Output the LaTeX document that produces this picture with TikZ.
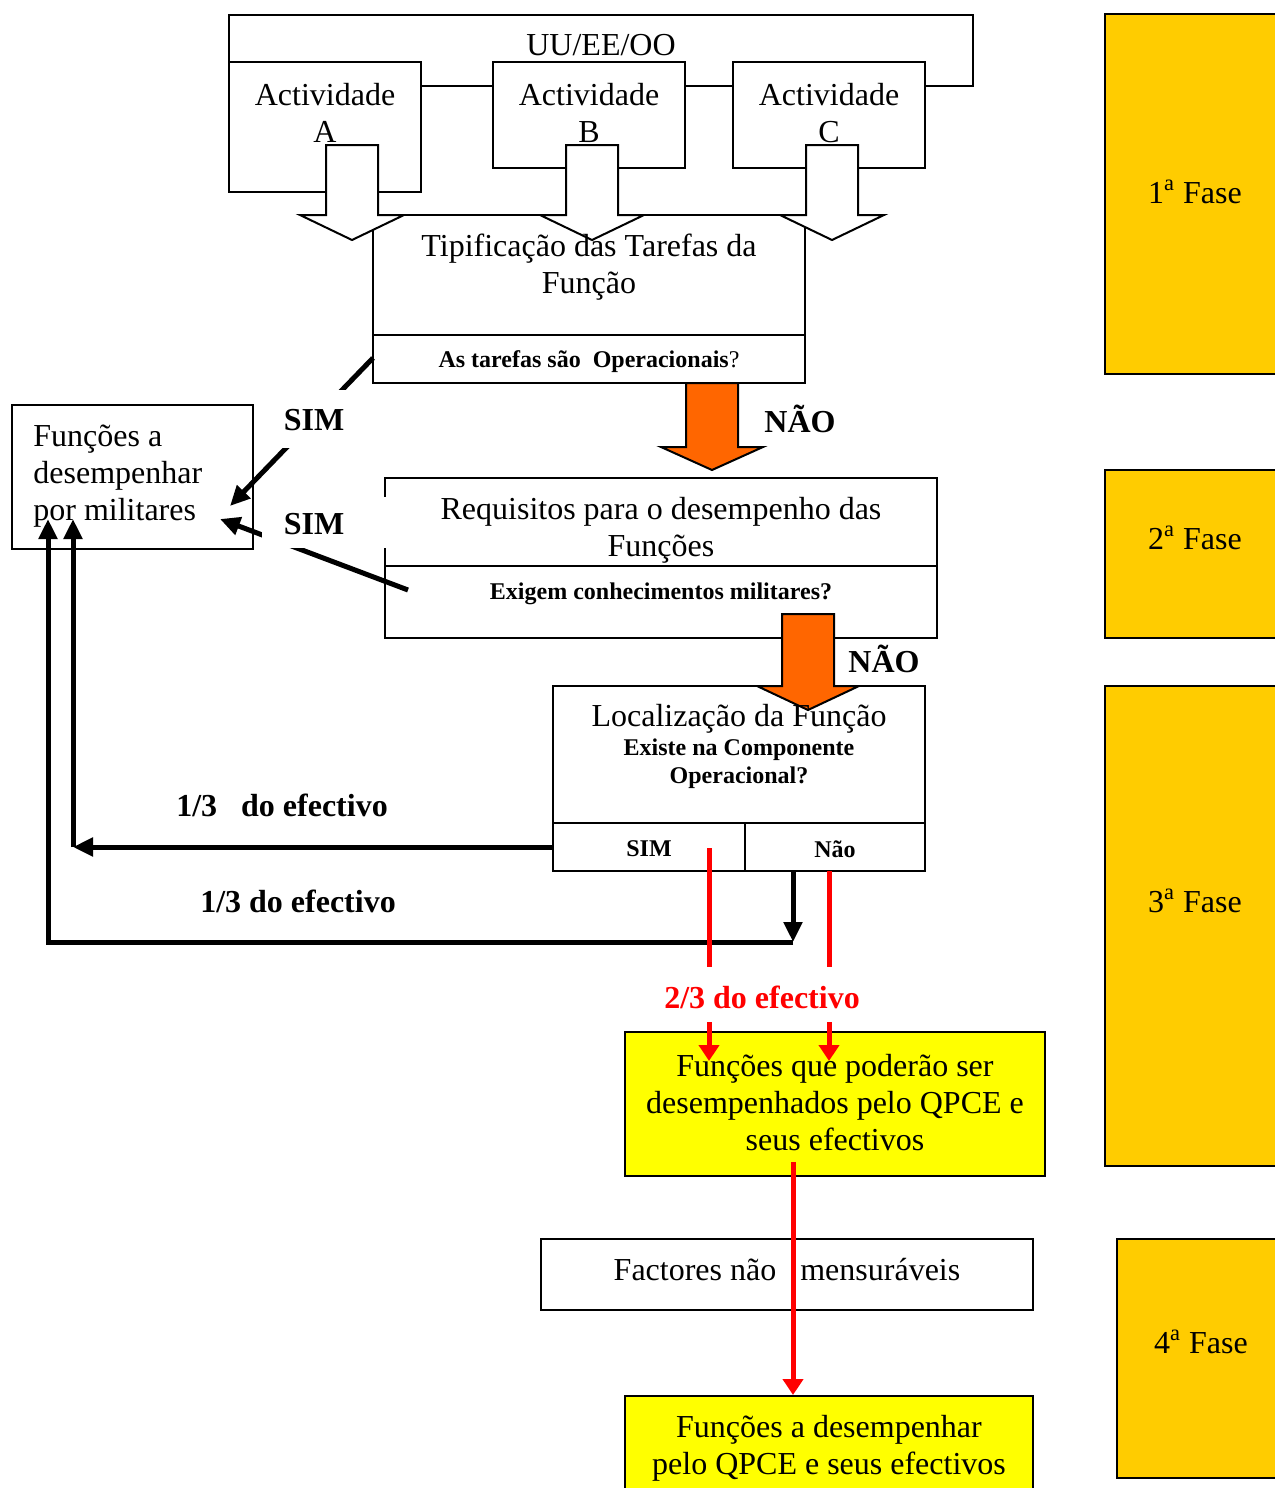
\documentclass[tikz,border=0pt]{standalone}
\usepackage{fontspec}
\setmainfont{Liberation Serif}
\usetikzlibrary{arrows.meta}
\definecolor{myorange}{HTML}{FF6600}
\definecolor{gold}{HTML}{FFCC00}
\definecolor{yel}{HTML}{FFFF00}
\definecolor{myred}{HTML}{FF0000}
\tikzset{
  box/.style={draw, line width=1pt, fill=white, inner sep=0pt},
  fasebox/.style={draw, line width=1pt, fill=gold, inner sep=0pt},
  yelbox/.style={draw, line width=1pt, fill=yel, inner sep=0pt},
  txt/.style={font=\fontsize{16pt}{18.5pt}\selectfont, align=center, inner sep=0pt},
  smallq/.style={font=\bfseries\fontsize{12pt}{14pt}\selectfont, align=center, inner sep=0pt},
  lbl/.style={font=\bfseries\fontsize{16pt}{18.5pt}\selectfont, inner sep=0pt},
  blockarrow/.style={draw, line width=1pt, line join=miter},
  blackarrow/.style={line width=2.5pt, -{Triangle[length=10pt,width=9pt]}},
  redarrow/.style={draw=myred, line width=2.5pt, -{Triangle[length=8pt,width=10pt]}},
  cover/.style={fill=white, inner sep=0pt},
}
\begin{document}
\begin{tikzpicture}[x=0.5pt, y=-0.5pt]
\useasboundingbox (0,0) rectangle (1274,1488);

% Phase boxes
\node[fasebox, minimum width=92.5pt, minimum height=180pt] (f1) at (1197.5,194) {};
\node[fasebox, minimum width=92.5pt, minimum height=84pt] (f2) at (1197.5,554) {};
\node[fasebox, minimum width=92.5pt, minimum height=240pt] (f3) at (1197.5,926) {};
\node[fasebox, minimum width=86.5pt, minimum height=119.5pt] (f4) at (1203.5,1358.5) {};
\node[txt] (f1t) at (1195,192) {1\textsuperscript{a} Fase};
\node[txt] (f2t) at (1195,538) {2\textsuperscript{a} Fase};
\node[txt] (f3t) at (1195,901) {3\textsuperscript{a} Fase};
\node[txt] (f4t) at (1201,1342) {4\textsuperscript{a} Fase};

% UU/EE/OO frame and activities
\node[box, minimum width=372pt, minimum height=35.5pt] (uu) at (601,50.5) {};
\node[txt] (uut) at (601,45) {UU/EE/OO};
\node[box, minimum width=96pt, minimum height=65pt] (actA) at (325,127) {};
\node[box, minimum width=96pt, minimum height=53pt] (actB) at (589,115) {};
\node[box, minimum width=96pt, minimum height=53pt] (actC) at (829,115) {};
\node[txt] (actAt) at (325,113) {Actividade\\A};
\node[txt] (actBt) at (589,113) {Actividade\\B};
\node[txt] (actCt) at (829,113) {Actividade\\C};

% Tipificacao box
\node[box, minimum width=216pt, minimum height=84pt] (tip) at (589,299) {};
\coordinate (tipdl) at (373,335);
\coordinate (tipdr) at (805,335);
\draw[line width=1pt] (tipdl) -- (tipdr);

% hollow block arrows
\foreach \cx in {352,592,832}{
  \draw[blockarrow, fill=white] (\cx-26,145) -- (\cx+26,145) -- (\cx+26,215) -- (\cx+52,215)
    -- (\cx,240) -- (\cx-52,215) -- (\cx-26,215) -- cycle;
}
\node[txt] (tipt) at (589,267) {Tipificação das Tarefas da\\Função};
\node[smallq] (tipq) at (589,362) {As tarefas são\ \ Operacionais{\mdseries ?}};

% Funcoes por militares
\node[box, minimum width=120.5pt, minimum height=72pt] (mil) at (132.5,477) {};
\node[txt, align=left, anchor=west] (milt) at (33,476) {Funções a\\desempenhar\\por militares};

% Requisitos box
\node[box, minimum width=276pt, minimum height=80pt] (req) at (661,558) {};
\coordinate (reqdl) at (385,566);
\coordinate (reqdr) at (937,566);
\draw[line width=1pt] (reqdl) -- (reqdr);
\node[txt] (reqt) at (661,530) {Requisitos para o desempenho das\\Funções};
\node[smallq] (reqq) at (661,594) {Exigem conhecimentos militares?};

% orange arrow 1
\draw[blockarrow, fill=myorange] (686,383) -- (738,383) -- (738,447) -- (763,447)
  -- (712,470) -- (661,447) -- (686,447) -- cycle;
\node[lbl] (nao1) at (800,419) {NÃO};

% SIM connectors
\coordinate (s1a) at (373,358);
\coordinate (s1b) at (230,506);
\draw[blackarrow] (s1a) -- (s1b);
\coordinate (s2a) at (408,590);
\coordinate (s2b) at (220,519);
\draw[blackarrow] (s2a) -- (s2b);
\node[cover, minimum width=64pt, minimum height=29pt] (sim1c) at (326,419) {};
\node[cover, minimum width=64pt, minimum height=25.5pt] (sim2c) at (326,522.5) {};
\node[lbl] (sim1) at (314,420) {SIM};
\node[lbl] (sim2) at (314,524) {SIM};

% Localizacao box
\node[box, minimum width=186pt, minimum height=92.5pt] (loc) at (739,778.5) {};
\coordinate (locdl) at (553,823);
\coordinate (locdr) at (925,823);
\coordinate (locv1) at (745,823);
\coordinate (locv2) at (745,871);
\draw[line width=1pt] (locdl) -- (locdr);
\draw[line width=1pt] (locv1) -- (locv2);
% orange arrow 2
\draw[blockarrow, fill=myorange] (782,614) -- (834,614) -- (834,686) -- (859,686)
  -- (808,710) -- (757,686) -- (782,686) -- cycle;
\node[lbl] (nao2) at (884,659) {NÃO};
\node[txt] (loct) at (739,719) {Localização da Função};
\node[smallq] (locq) at (739,764) {Existe na Componente\\Operacional?};
\node[smallq] (locsim) at (649,849) {SIM};
\node[smallq] (locnao) at (835,849) {Não};

% black return connectors
\coordinate (c1a) at (553,847);
\coordinate (c1b) at (73,847);
\coordinate (c1c) at (73,519);
\draw[blackarrow] (c1a) -- (c1b);
\draw[blackarrow] (c1b) -- (c1c);
\coordinate (c2a) at (793,871);
\coordinate (c2b) at (793,942);
\coordinate (c2c) at (48,942);
\coordinate (c2d) at (48,519);
\draw[blackarrow] (c2a) -- (c2b);
\draw[blackarrow] (c2b) -- (c2c) -- (c2d);
\node[lbl] (t13a) at (282,805) {1/3\ \ \ do efectivo};
\node[lbl] (t13b) at (298,901) {1/3 do efectivo};

% yellow box 1
\node[yelbox, minimum width=210pt, minimum height=72pt] (y1) at (835,1104) {};
\node[txt] (y1t) at (835,1103) {Funções que poderão ser\\desempenhados pelo QPCE e\\seus efectivos};

% red connectors
\coordinate (r1a) at (709,848);
\coordinate (r1b) at (709,1061);
\coordinate (r2a) at (829,871);
\coordinate (r2b) at (829,1061);
\draw[redarrow] (r1a) -- (r1b);
\draw[redarrow] (r2a) -- (r2b);
\node[cover, minimum width=102.5pt, minimum height=27.5pt] (t23c) at (762,994.5) {};
\node[lbl, text=myred] (t23) at (762,997) {2/3 do efectivo};

% factores
\node[box, minimum width=246pt, minimum height=35.5pt] (fact) at (787,1274.5) {};
\node[txt] (factt) at (787,1270) {Factores não\ \ \ mensuráveis};

% yellow box 2
\node[yelbox, minimum width=204pt, minimum height=60pt] (y2) at (829,1456) {};
\node[txt] (y2t) at (829,1448) {Funções a desempenhar\\pelo QPCE e seus efectivos};

\coordinate (r3a) at (793,1162);
\draw[redarrow] (r3a) -- (y2.north -| r3a);
\end{tikzpicture}
\end{document}
